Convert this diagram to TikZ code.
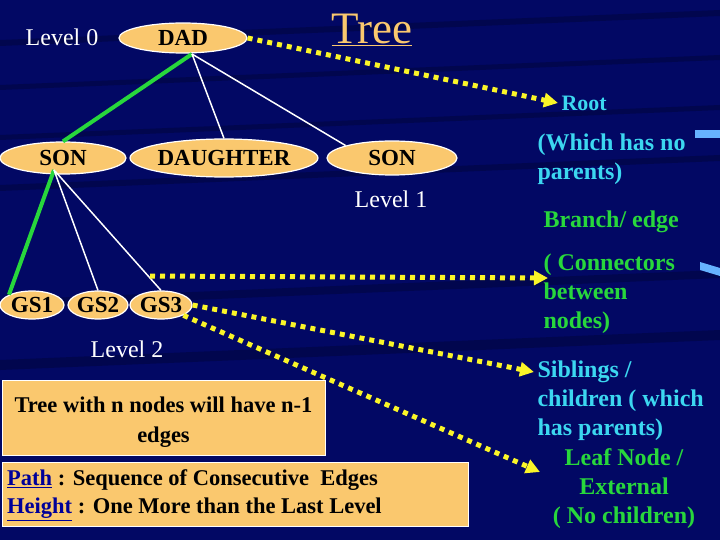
\documentclass[tikz,border=0pt]{standalone}
\usepackage{fontspec}
\setmainfont{Liberation Serif}
\usetikzlibrary{arrows.meta,shapes.geometric}
\definecolor{bg}{RGB}{2,8,100}
\definecolor{peach}{RGB}{250,200,110}
\definecolor{cy}{RGB}{60,215,240}
\definecolor{gr}{RGB}{40,215,60}
\definecolor{yl}{RGB}{250,245,40}
\tikzset{
 el/.style={ellipse,fill=peach,draw=white,line width=1.2pt,inner sep=0pt,font=\fontsize{23}{25}\selectfont\bfseries,text=black},
 lvl/.style={text=white,font=\fontsize{24}{26}\selectfont},
 lab/.style={font=\fontsize{24}{29}\selectfont\bfseries,align=left,anchor=north west},
 wl/.style={white,line width=1.5pt},
 gl/.style={color=gr,line width=4pt},
 yd/.style={yl,line width=5pt,dash pattern=on 5pt off 5pt,-{Triangle[length=14pt,width=14pt]}},
}
\begin{document}
\begin{tikzpicture}[x=1pt,y=-1pt]
\fill[bg] (0,0) rectangle (720,540);
\useasboundingbox (0,0) rectangle (720,540);
\foreach \yy/\w in {40/6,85/5,135/5,185/6,300/8,360/10}{\fill[black!70!bg,opacity=.3] (0,\yy) -- (720,\yy-30) -- (720,\yy-30+\w) -- (0,\yy+\w) -- cycle;}
\fill[blue!50!cyan!60!white] (695,130) rectangle (720,138);
\fill[blue!50!cyan!60!white] (700,262) -- (720,268) -- (720,276) -- (700,270) -- cycle;
\node[el,minimum width=128,minimum height=30] (dad) at (183,38) {DAD};
\node[el,minimum width=126,minimum height=32] (son) at (63,158) {SON};
\node[el,minimum width=152,minimum height=38] (dau) at (224,158) {DAUGHTER};
\node[el,minimum width=130,minimum height=34] (son2) at (392,158) {SON};
\node[el,minimum width=64,minimum height=28] (gs1) at (32,305) {GS1};
\node[el,minimum width=60,minimum height=28] (gs2) at (98,305) {GS2};
\node[el,minimum width=62,minimum height=28] (gs3) at (161,305) {GS3};
\node[lvl] (l0) at (62,37) {Level 0};
\node[lvl] (l1) at (391,199) {Level 1};
\node[lvl] (l2) at (127,349) {Level 2};
\node[text=peach,font=\fontsize{45}{48}\selectfont] (tree) at (372,30) {\underline{Tree}};
\coordinate (dadb) at (192,54);
\coordinate (sonb) at (54,170);
\draw[gl] (dadb) -- (son.north);
\draw[wl] (dadb) -- (dau.north);
\draw[wl] (dadb) -- (son2.north west);
\draw[gl] (sonb) -- (gs1.north west);
\draw[wl] (sonb) -- (gs2.north);
\draw[wl] (sonb) -- (gs3.north);
\node[text=cy,font=\fontsize{22}{24}\selectfont\bfseries,anchor=west] (root) at (558,103) {Root};
\node[lab,text=cy] (which) at (534,130) {(Which has no\\parents)};
\node[lab,text=gr] (branch) at (540,207) {Branch/ edge};
\node[lab,text=gr] (conn) at (540,250) {( Connectors\\between\\nodes)};
\node[lab,text=cy] (sib) at (534,357) {Siblings /\\children ( which\\has parents)};
\node[text=gr,font=\fontsize{24}{29}\selectfont\bfseries,align=center,anchor=north] (leaf) at (624,445) {Leaf Node /\\External\\( No children)};
\fill[peach,draw=white,line width=1pt] (2,380) rectangle (325,455);
\node[align=center,font=\fontsize{22.5}{30}\selectfont\bfseries] (b1) at (163.5,422) {Tree with n nodes will have n-1\\edges};
\fill[peach,draw=white,line width=1pt] (2,462) rectangle (468,526);
\node[anchor=west,align=left,font=\fontsize{22.5}{28}\selectfont\bfseries,inner xsep=0pt] (b2) at (7,495) {\textcolor{blue!60!black}{\underline{Path}} : Sequence of Consecutive\ \ Edges\\\textcolor{blue!60!black}{\underline{Height}} : One More than the Last Level};
\coordinate (hs) at (150,276);
\coordinate (ct) at (548,278);
\draw[yd] (dad.east) -- (root.west);
\draw[yd] (hs) -- (ct);
\draw[yd] (gs3.east) -- (sib.west|-0,372);
\draw[yd] (gs3.south east) -- (540,472);
\end{tikzpicture}
\end{document}
